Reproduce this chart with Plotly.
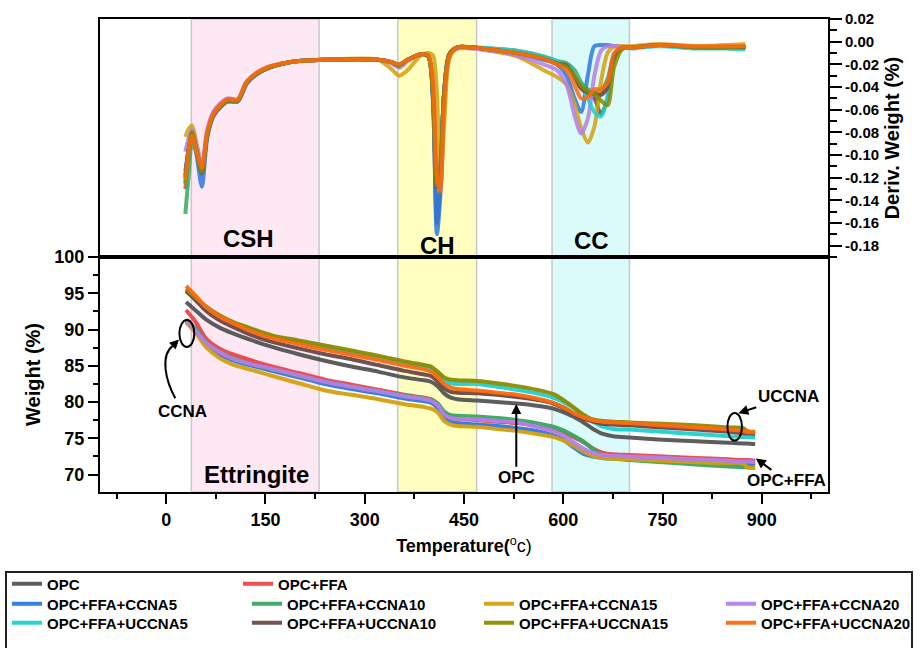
import plotly.graph_objects as go

# ---------------- data ----------------
# temperature grids (deg C)
T_TGA = [30, 45, 60, 80, 100, 130, 160, 200, 240, 280, 320, 360,
         390, 400, 410, 420, 430, 440, 470, 500, 530, 560, 585, 600,
         615, 630, 645, 660, 675, 700, 750, 800, 850, 872, 878, 890]

T_DTG = [29, 34, 39, 46, 54, 62, 72, 92, 108, 122, 147,
         188, 240, 320, 340, 352, 365, 385, 396, 403, 409, 414,
         420, 428, 440, 460, 490, 530, 570, 590, 605, 617, 627,
         637, 647, 657, 667, 677, 690, 705, 745, 800, 845, 875]

NAMES = ["OPC", "OPC+FFA",
         "OPC+FFA+CCNA5", "OPC+FFA+CCNA10", "OPC+FFA+CCNA15", "OPC+FFA+CCNA20",
         "OPC+FFA+UCCNA5", "OPC+FFA+UCCNA10", "OPC+FFA+UCCNA15", "OPC+FFA+UCCNA20"]

COLORS = ["#555555", "#EE4449", "#2B78E4", "#37A862", "#D4A010", "#B57FE8",
          "#1FD0D0", "#6B4848", "#8C8C00", "#FF6A10"]

# weight (%) vs temperature
TGA_OPC = [93.8, 92.6, 91.4, 90.3, 89.5, 88.5, 87.6, 86.6, 85.7, 84.9, 84.2, 83.4,
           83.0, 82.8, 82.2, 81.2, 80.6, 80.4, 80.2, 80.0, 79.8, 79.5, 79.1, 78.6,
           78.0, 77.2, 76.3, 75.6, 75.3, 75.1, 74.8, 74.6, 74.4, 74.3, 74.3, 74.2]
TGA_FFA = [92.7, 91.0, 88.8, 87.4, 86.6, 85.7, 84.9, 84.0, 83.1, 82.4, 81.7, 81.0,
           80.6, 80.4, 79.8, 78.5, 77.9, 77.7, 77.5, 77.3, 77.1, 76.7, 76.2, 75.8,
           75.2, 74.5, 73.6, 73.0, 72.8, 72.7, 72.5, 72.3, 72.1, 72.0, 72.0, 71.9]
TGA_CCNA5 = [91.3, 89.9, 88.0, 86.6, 85.8, 85.0, 84.3, 83.4, 82.5, 81.8, 81.2, 80.5,
             80.1, 79.9, 79.2, 77.9, 77.3, 77.1, 76.9, 76.7, 76.4, 76.0, 75.4, 74.8,
             73.8, 72.9, 72.5, 72.3, 72.2, 72.1, 71.9, 71.8, 71.6, 71.5, 71.5, 71.4]
TGA_CCNA10 = [91.4, 90.1, 88.3, 86.9, 86.1, 85.2, 84.5, 83.6, 82.8, 82.1, 81.5, 80.9,
              80.5, 80.3, 79.8, 78.7, 78.2, 78.1, 78.0, 77.8, 77.5, 77.1, 76.6, 76.1,
              75.4, 74.6, 73.5, 72.6, 72.2, 72.0, 71.7, 71.4, 71.1, 71.0, 71.0, 70.9]
TGA_CCNA15 = [91.0, 89.5, 87.6, 86.1, 85.2, 84.4, 83.6, 82.6, 81.6, 81.0, 80.4, 79.7,
              79.3, 79.1, 78.6, 77.4, 76.9, 76.7, 76.6, 76.3, 76.0, 75.6, 75.2, 74.7,
              74.0, 73.2, 72.6, 72.3, 72.2, 72.1, 71.9, 71.7, 71.6, 71.55, 71.0, 70.95]
TGA_CCNA20 = [91.2, 89.8, 88.2, 86.9, 86.0, 85.2, 84.6, 83.7, 82.8, 82.1, 81.5, 80.8,
              80.4, 80.2, 79.6, 78.3, 77.8, 77.7, 77.6, 77.4, 77.2, 76.6, 76.0, 75.4,
              74.5, 73.6, 73.0, 72.7, 72.6, 72.5, 72.3, 72.1, 71.9, 71.8, 71.8, 71.7]
TGA_UCCNA5 = [95.5, 94.3, 93.0, 91.8, 90.9, 89.9, 89.0, 88.2, 87.5, 86.8, 86.1, 85.3,
              84.8, 84.6, 83.8, 82.9, 82.6, 82.5, 82.5, 82.1, 81.7, 81.2, 80.6, 80.0,
              79.2, 78.2, 77.3, 76.6, 76.3, 76.2, 75.9, 75.6, 75.3, 75.2, 75.2, 75.1]
TGA_UCCNA10 = [95.3, 94.0, 92.6, 91.3, 90.4, 89.2, 88.3, 87.4, 86.6, 85.9, 85.1, 84.3,
               83.8, 83.6, 82.9, 81.9, 81.4, 81.3, 81.2, 81.0, 80.7, 80.3, 79.8, 79.2,
               78.4, 77.7, 77.3, 77.0, 76.9, 76.8, 76.5, 76.2, 75.9, 75.7, 75.7, 75.6]
TGA_UCCNA15 = [95.6, 94.4, 93.2, 92.0, 91.1, 90.1, 89.2, 88.5, 87.8, 87.1, 86.4, 85.6,
               85.1, 84.9, 84.2, 83.4, 83.1, 83.0, 82.9, 82.6, 82.2, 81.7, 81.1, 80.3,
               79.3, 78.3, 77.6, 77.4, 77.3, 77.2, 77.0, 76.8, 76.5, 76.4, 76.0, 75.9]
TGA_UCCNA20 = [96.0, 94.6, 93.1, 91.8, 90.9, 89.7, 88.8, 88.0, 87.2, 86.5, 85.8, 85.0,
               84.5, 84.2, 83.4, 82.5, 82.0, 81.8, 81.6, 81.3, 81.0, 80.5, 79.9, 79.3,
               78.5, 77.9, 77.5, 77.3, 77.2, 77.1, 76.8, 76.5, 76.2, 76.0, 75.9, 75.8]

# derivative weight (%/deg C) vs temperature
DTG_OPC = [-0.118, -0.094, -0.080, -0.096, -0.116, -0.082, -0.064, -0.052, -0.052, -0.036, -0.025,
           -0.018, -0.016, -0.016, -0.018, -0.021, -0.016, -0.011, -0.013, -0.050, -0.160, -0.128,
           -0.045, -0.011, -0.005, -0.005, -0.007, -0.010, -0.015, -0.019, -0.022, -0.030, -0.040,
           -0.046, -0.050, -0.064, -0.050, -0.015, -0.006, -0.005, -0.003, -0.005, -0.005, -0.005]
DTG_FFA = [-0.130, -0.098, -0.081, -0.097, -0.116, -0.083, -0.065, -0.053, -0.052, -0.036, -0.025,
           -0.018, -0.016, -0.016, -0.018, -0.021, -0.016, -0.011, -0.012, -0.040, -0.122, -0.128,
           -0.050, -0.012, -0.005, -0.005, -0.007, -0.010, -0.015, -0.019, -0.021, -0.030, -0.041,
           -0.046, -0.046, -0.046, -0.036, -0.012, -0.005, -0.005, -0.003, -0.005, -0.005, -0.005]
DTG_CCNA5 = [-0.114, -0.095, -0.081, -0.100, -0.128, -0.085, -0.065, -0.053, -0.053, -0.037, -0.025,
             -0.018, -0.016, -0.016, -0.018, -0.021, -0.016, -0.011, -0.013, -0.050, -0.170, -0.138,
             -0.045, -0.011, -0.005, -0.005, -0.007, -0.011, -0.016, -0.020, -0.030, -0.050, -0.062,
             -0.030, -0.004, -0.003, -0.003, -0.004, -0.005, -0.005, -0.003, -0.005, -0.005, -0.005]
DTG_CCNA10 = [-0.152, -0.118, -0.090, -0.098, -0.116, -0.082, -0.064, -0.052, -0.052, -0.036, -0.025,
              -0.018, -0.016, -0.016, -0.018, -0.020, -0.016, -0.011, -0.013, -0.045, -0.128, -0.112,
              -0.045, -0.011, -0.005, -0.005, -0.006, -0.008, -0.013, -0.017, -0.019, -0.025, -0.036,
              -0.042, -0.044, -0.043, -0.033, -0.012, -0.005, -0.005, -0.003, -0.005, -0.005, -0.005]
DTG_CCNA15 = [-0.084, -0.077, -0.074, -0.090, -0.112, -0.080, -0.063, -0.051, -0.051, -0.035, -0.025,
              -0.018, -0.016, -0.016, -0.024, -0.030, -0.025, -0.012, -0.010, -0.012, -0.045, -0.122,
              -0.075, -0.015, -0.005, -0.005, -0.008, -0.013, -0.025, -0.031, -0.038, -0.055, -0.076,
              -0.089, -0.075, -0.035, -0.010, -0.004, -0.004, -0.004, -0.002, -0.004, -0.003, -0.002]
DTG_CCNA20 = [-0.097, -0.085, -0.078, -0.092, -0.108, -0.078, -0.061, -0.050, -0.051, -0.035, -0.024,
              -0.018, -0.016, -0.016, -0.019, -0.023, -0.017, -0.011, -0.013, -0.045, -0.126, -0.110,
              -0.045, -0.011, -0.006, -0.006, -0.008, -0.012, -0.020, -0.025, -0.038, -0.065, -0.081,
              -0.068, -0.030, -0.008, -0.004, -0.004, -0.005, -0.005, -0.003, -0.005, -0.005, -0.005]
DTG_UCCNA5 = [-0.125, -0.096, -0.081, -0.097, -0.116, -0.082, -0.064, -0.052, -0.052, -0.036, -0.025,
              -0.018, -0.016, -0.016, -0.018, -0.020, -0.016, -0.011, -0.013, -0.045, -0.125, -0.115,
              -0.045, -0.011, -0.005, -0.005, -0.006, -0.008, -0.013, -0.017, -0.021, -0.028, -0.038,
              -0.050, -0.062, -0.066, -0.048, -0.014, -0.006, -0.006, -0.004, -0.006, -0.006, -0.007]
DTG_UCCNA10 = [-0.120, -0.095, -0.081, -0.097, -0.116, -0.082, -0.064, -0.052, -0.052, -0.036, -0.025,
               -0.018, -0.016, -0.016, -0.018, -0.021, -0.016, -0.011, -0.013, -0.045, -0.128, -0.115,
               -0.045, -0.011, -0.005, -0.005, -0.007, -0.010, -0.015, -0.019, -0.021, -0.031, -0.041,
               -0.045, -0.046, -0.047, -0.040, -0.013, -0.005, -0.005, -0.003, -0.005, -0.005, -0.005]
DTG_UCCNA15 = [-0.125, -0.096, -0.080, -0.096, -0.115, -0.082, -0.064, -0.052, -0.052, -0.036, -0.025,
               -0.018, -0.016, -0.016, -0.018, -0.021, -0.016, -0.011, -0.013, -0.045, -0.127, -0.113,
               -0.045, -0.011, -0.005, -0.005, -0.007, -0.010, -0.015, -0.019, -0.022, -0.030, -0.039,
               -0.044, -0.046, -0.052, -0.056, -0.022, -0.006, -0.005, -0.003, -0.005, -0.005, -0.004]
DTG_UCCNA20 = [-0.122, -0.096, -0.083, -0.097, -0.111, -0.080, -0.063, -0.051, -0.051, -0.035, -0.024,
               -0.018, -0.016, -0.016, -0.018, -0.020, -0.016, -0.011, -0.012, -0.035, -0.118, -0.132,
               -0.055, -0.013, -0.005, -0.005, -0.007, -0.010, -0.015, -0.020, -0.025, -0.038, -0.050,
               -0.049, -0.042, -0.042, -0.036, -0.010, -0.005, -0.005, -0.003, -0.004, -0.004, -0.004]

TGA_SERIES = [TGA_OPC, TGA_FFA, TGA_CCNA5, TGA_CCNA10, TGA_CCNA15, TGA_CCNA20,
              TGA_UCCNA5, TGA_UCCNA10, TGA_UCCNA15, TGA_UCCNA20]
DTG_SERIES = [DTG_OPC, DTG_FFA, DTG_CCNA5, DTG_CCNA10, DTG_CCNA15, DTG_CCNA20,
              DTG_UCCNA5, DTG_UCCNA10, DTG_UCCNA15, DTG_UCCNA20]

# which legend row/block each sample is listed in
LEGEND_OF = ["legend", "legend", "legend2", "legend2", "legend3", "legend3",
             "legend4", "legend4", "legend5", "legend5"]

# decomposition zones (deg C)
ZONES = [(38, 231, "#FDE8F4"), (350, 469, "#FFFFC0"), (583, 700, "#DBFBFB")]

DTG_TICKS = [0.02, 0.00, -0.02, -0.04, -0.06, -0.08, -0.10, -0.12, -0.14, -0.16, -0.18]
DTG_TICKTEXT = ["0.02", "0.00", "-0.02", "-0.04", "-0.06", "-0.08", "-0.10",
                "-0.12", "-0.14", "-0.16", "-0.18"]

FONT = "Liberation Sans, Arial, sans-serif"
SPLIT = 0.4968

# ---------------- figure ----------------
fig = go.Figure()

for name, col, dtg in zip(NAMES, COLORS, DTG_SERIES):
    fig.add_trace(go.Scatter(
        x=T_DTG, y=dtg, xaxis="x2", yaxis="y2", mode="lines",
        line=dict(color=col, width=4, shape="spline", smoothing=0.8),
        opacity=0.85, showlegend=False, name=name, hoverinfo="skip"))

for name, col, tga, lg in zip(NAMES, COLORS, TGA_SERIES, LEGEND_OF):
    fig.add_trace(go.Scatter(
        x=T_TGA, y=tga, xaxis="x", yaxis="y", mode="lines",
        line=dict(color=col, width=4, shape="spline", smoothing=0.8),
        opacity=0.95, name=name, legend=lg))

# shaded zones across both panels
for x0, x1, fill in ZONES:
    fig.add_shape(type="rect", xref="x", yref="paper", x0=x0, x1=x1, y0=0, y1=1,
                  fillcolor=fill, line=dict(color="#C8C8C8", width=1.5), layer="below")

axis_common = dict(showline=True, linecolor="black", linewidth=2, mirror=True,
                   showgrid=False, zeroline=False)

fig.update_layout(
    width=923, height=648,
    margin=dict(l=100, r=95, t=19, b=156, autoexpand=False),
    paper_bgcolor="white", plot_bgcolor="white",
    font=dict(family=FONT, color="black"),
    xaxis=dict(domain=[0, 1], anchor="y", range=[-100, 1000], tick0=0, dtick=150,
               ticks="outside", ticklen=10, tickwidth=2, tickcolor="black",
               tickfont=dict(size=18, weight="bold"),
               minor=dict(dtick=75, tick0=0, ticks="outside", ticklen=5, tickwidth=2,
                          tickcolor="black", showgrid=False),
               title=dict(text="<b>Temperature(</b><sup>o</sup>c)", font=dict(size=18),
                          standoff=11),
               **axis_common),
    yaxis=dict(domain=[0, SPLIT], anchor="x", range=[67.6, 100], tick0=0, dtick=5,
               ticks="outside", ticklen=10, tickwidth=2, tickcolor="black",
               tickfont=dict(size=18, weight="bold"),
               minor=dict(dtick=2.5, tick0=0, ticks="outside", ticklen=5, tickwidth=2,
                          tickcolor="black", showgrid=False),
               title=dict(text="Weight (%)", font=dict(size=20, weight="bold"), standoff=8),
               **axis_common),
    xaxis2=dict(domain=[0, 1], anchor="y2", matches="x", showticklabels=False,
                ticks="", **axis_common),
    yaxis2=dict(domain=[SPLIT, 1], anchor="x2", side="right", range=[-0.19, 0.02],
                tickmode="array", tickvals=DTG_TICKS, ticktext=DTG_TICKTEXT,
                ticks="outside", ticklen=12, tickwidth=2, tickcolor="black",
                tickfont=dict(size=15, weight="bold"),
                minor=dict(dtick=0.01, tick0=0, ticks="outside", ticklen=7, tickwidth=2,
                           tickcolor="black", showgrid=False),
                title=dict(text="Deriv. Weight (%)", font=dict(size=20, weight="bold"),
                           standoff=6),
                **axis_common),
)

# legend rows (px positions converted to paper coordinates)
def px_x(px):
    return (px - 100) / 728.0

def px_y(py):
    return (492 - py) / 473.0

legend_font = dict(size=15, weight="bold", family=FONT, color="black")
legend_common = dict(orientation="h", xanchor="left", yanchor="middle",
                     bgcolor="rgba(0,0,0,0)", borderwidth=0, font=legend_font,
                     entrywidthmode="pixels", itemclick=False, itemdoubleclick=False)
fig.update_layout(
    legend=dict(x=px_x(7), y=px_y(584), entrywidth=186, **legend_common),
    legend2=dict(x=px_x(7), y=px_y(604), entrywidth=195, **legend_common),
    legend3=dict(x=px_x(479), y=px_y(604), entrywidth=197, **legend_common),
    legend4=dict(x=px_x(7), y=px_y(623), entrywidth=195, **legend_common),
    legend5=dict(x=px_x(479), y=px_y(623), entrywidth=197, **legend_common),
)

# legend frame
fig.add_shape(type="rect", xref="paper", yref="paper",
              x0=px_x(6), x1=px_x(912), y0=px_y(662), y1=px_y(572),
              line=dict(color="#222222", width=2), fillcolor="rgba(0,0,0,0)")

# zone labels
label_font = dict(size=24, weight="bold", family=FONT, color="black")
for txt, xv, yv, yr in [("CSH", 124, -0.174, "y2"), ("CH", 410, -0.180, "y2"),
                        ("CC", 642, -0.1755, "y2"), ("Ettringite", 136, 70.05, "y")]:
    fig.add_annotation(text=txt, x=xv, y=yv, xref="x", yref=yr, showarrow=False,
                       font=label_font, xanchor="center", yanchor="middle")

# callouts: text sits at the arrow tail, arrowhead on the marked curves
call_font = dict(size=17, weight="bold", family=FONT, color="black")
fig.add_annotation(text="CCNA", x=25, y=78.65, xref="x", yref="y", showarrow=False,
                   font=call_font, xanchor="center", yanchor="middle")
for txt, hx, hy, tx, ty in [("OPC", 529, 79.72, 529, 69.55),
                            ("UCCNA", 864.5, 78.47, 940, 80.72),
                            ("OPC+FFA", 891, 72.23, 937, 69.13)]:
    fig.add_annotation(text=txt, x=hx, y=hy, ax=tx, ay=ty, xref="x", yref="y",
                       axref="x", ayref="y", showarrow=True, arrowhead=2, arrowsize=1,
                       arrowwidth=2, arrowcolor="black", font=call_font)

# ellipses marking the curve groups
fig.add_shape(type="circle", xref="x", yref="y", x0=20, x1=42.5, y0=87.6, y1=91.3,
              line=dict(color="black", width=2))
fig.add_shape(type="circle", xref="x", yref="y", x0=848, x1=870, y0=74.7, y1=78.5,
              line=dict(color="black", width=2))

# curved pointer for CCNA with its arrowhead
fig.add_shape(type="path", xref="x", yref="y",
              path="M 13.8,80.54 C -1.4,83.02 -8.9,86.46 9.7,87.74",
              line=dict(color="black", width=2))
fig.add_shape(type="path", xref="x", yref="y",
              path="M 18.3,88.53 L 13.9,87.36 L 5.4,88.13 Z",
              line=dict(color="black", width=1), fillcolor="black")

fig.write_html("out.html")
